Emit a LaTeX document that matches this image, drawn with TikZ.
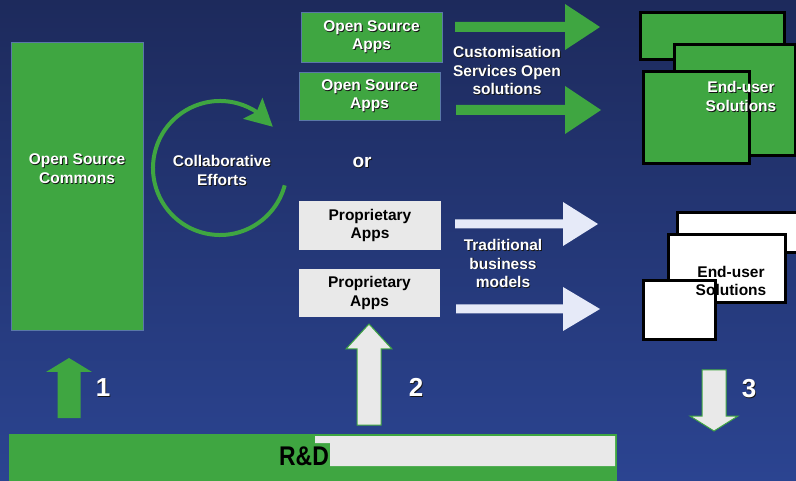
\documentclass[tikz,border=0pt]{standalone}
\usepackage{fontspec}
\setmainfont{Liberation Sans}
\usetikzlibrary{arrows.meta,bending,calc}
\definecolor{osgreen}{HTML}{3FA641}
\definecolor{bgtop}{HTML}{1D2A5C}
\definecolor{bgbot}{HTML}{2B4491}
\definecolor{greyfill}{HTML}{E9E9E9}
\definecolor{lavender}{HTML}{E6EAF8}
\definecolor{shadowc}{HTML}{151515}
\definecolor{boxedge}{HTML}{5A78A8}
\newcommand\shd[1]{\leavevmode\rlap{\kern0.9pt\raisebox{-0.9pt}{\textcolor{shadowc}{#1}}}#1}
% right block arrow: xs, xh, xt, yc, shaft half, head half, style
\newcommand\rarrow[7]{\filldraw[#7] (#1,{#4-#5}) -- (#2,{#4-#5}) -- (#2,{#4-#6}) -- (#3,#4) -- (#2,{#4+#6}) -- (#2,{#4+#5}) -- (#1,{#4+#5}) -- cycle;}
% vertical block arrow: xc, ytip, ybase, yend, shaft half, head half, style
\newcommand\varrow[7]{\filldraw[#7] ({#1-#5},#4) -- ({#1-#5},#3) -- ({#1-#6},#3) -- (#1,#2) -- ({#1+#6},#3) -- ({#1+#5},#3) -- ({#1+#5},#4) -- cycle;}
\begin{document}
\begin{tikzpicture}[x=1pt,y=-1pt,
  rbox/.style={anchor=north west, inner sep=0pt, outer sep=0pt},
  greenbox/.style={rbox, fill=osgreen, draw=boxedge, line width=0.8pt},
  greybox/.style={rbox, fill=greyfill, draw=none},
  eugreen/.style={rbox, fill=osgreen, draw=black, line width=3pt},
  euwhite/.style={rbox, fill=white, draw=black, line width=3pt},
  wtext/.style={text=white, font=\fontsize{15.5}{18.5}\selectfont\bfseries, align=center, inner sep=0pt},
  btext/.style={text=black, font=\fontsize{15.5}{18.5}\selectfont\bfseries, align=center, inner sep=0pt},
  numtext/.style={text=white, font=\fontsize{26}{28}\selectfont\bfseries, inner sep=0pt},
  greenarrow/.style={fill=osgreen, draw=none},
  whitearrow/.style={fill=lavender, draw=none},
  greyarrow/.style={fill=greyfill, draw=osgreen, line width=1pt}]
\useasboundingbox (0,0) rectangle (796,481);
\shade[top color=bgtop, bottom color=bgbot] (0,0) rectangle (796,481);

% Open Source Commons
\node[greenbox, minimum width=132pt, minimum height=288pt] (osc) at (11,42) {};
\node[wtext] (osctext) at (77,169) {\shd{Open Source}\\\shd{Commons}};

% collaborative efforts cycle
\coordinate (cc) at (220,168);
\draw[osgreen, line width=4pt, -{Stealth[length=27pt,width=28pt,inset=5pt,flex]}]
  ($(cc)+(15:67)$) arc[start angle=15, end angle=322, radius=67];
\node[wtext] (collab) at (222,171) {\shd{Collaborative}\\\shd{Efforts}};

% open source apps
\node[greenbox, minimum width=141pt, minimum height=50pt] (osa1) at (301,12) {};
\node[wtext] at (osa1.center) {\shd{Open Source}\\\shd{Apps}};
\node[greenbox, minimum width=141pt, minimum height=48pt] (osa2) at (299,72) {};
\node[wtext] at (osa2.center) {\shd{Open Source}\\\shd{Apps}};

\node[wtext, font=\fontsize{19}{21}\selectfont\bfseries] (or) at (362,163) {\shd{or}};

% proprietary apps
\node[greybox, minimum width=142pt, minimum height=49pt] (pa1) at (299,201) {};
\node[btext] at (pa1.center) {Proprietary\\Apps};
\node[greybox, minimum width=141pt, minimum height=48pt] (pa2) at (299,269) {};
\node[btext] at (pa2.center) {Proprietary\\Apps};

% arrows to end-user solutions
\rarrow{455}{565}{600}{27}{5}{23}{greenarrow}
\rarrow{456}{565}{601}{110}{5}{24}{greenarrow}
\rarrow{455}{563}{598}{224}{4.5}{22}{whitearrow}
\rarrow{456}{563}{600}{309}{4.5}{22}{whitearrow}

\node[wtext] (cust) at (507,71) {\shd{Customisation}\\\shd{Services Open}\\\shd{solutions}};
\node[wtext] (trad) at (503,264) {\shd{Traditional}\\\shd{business}\\\shd{models}};

% end-user solutions (open)
\node[eugreen, minimum width=144pt, minimum height=47pt] (g1) at (640,13) {};
\node[eugreen, minimum width=121pt, minimum height=111pt] (g2) at (674,45) {};
\node[eugreen, minimum width=106pt, minimum height=92pt] (g3) at (643,72) {};
\node[wtext] (eug) at (741,97) {\shd{End-user}\\\shd{Solutions}};

% end-user solutions (traditional)
\node[euwhite, minimum width=125pt, minimum height=40pt] (w1) at (677,213) {};
\node[euwhite, minimum width=117pt, minimum height=68pt] (w2) at (668,235) {};
\node[euwhite, minimum width=72pt, minimum height=59pt] (w3) at (643,281) {};
\node[btext] (euw) at (731,281) {End-user\\Solutions};

% bottom arrows and numbers
\varrow{69}{358}{372}{418}{11.5}{23}{greenarrow}
\varrow{369}{324}{349}{425}{12}{23}{greyarrow}
\varrow{714}{431}{416}{370}{12}{24}{greyarrow}
\node[numtext] (n1) at (103,388) {\shd{1}};
\node[numtext] (n2) at (416,388) {\shd{2}};
\node[numtext] (n3) at (749,389) {\shd{3}};

% R&D bar
\node[rbox, fill=osgreen, minimum width=608pt, minimum height=50pt] (rd) at (9,434) {};
\fill[greyfill] (315,436) -- (615,436) -- (615,466) -- (330,466) -- (330,443) -- (315,443) -- cycle;
\node[text=black, font=\fontsize{27}{29}\selectfont\bfseries, inner sep=0pt, xscale=0.85] (rdtext) at (304,456) {R\&D};
\end{tikzpicture}
\end{document}
